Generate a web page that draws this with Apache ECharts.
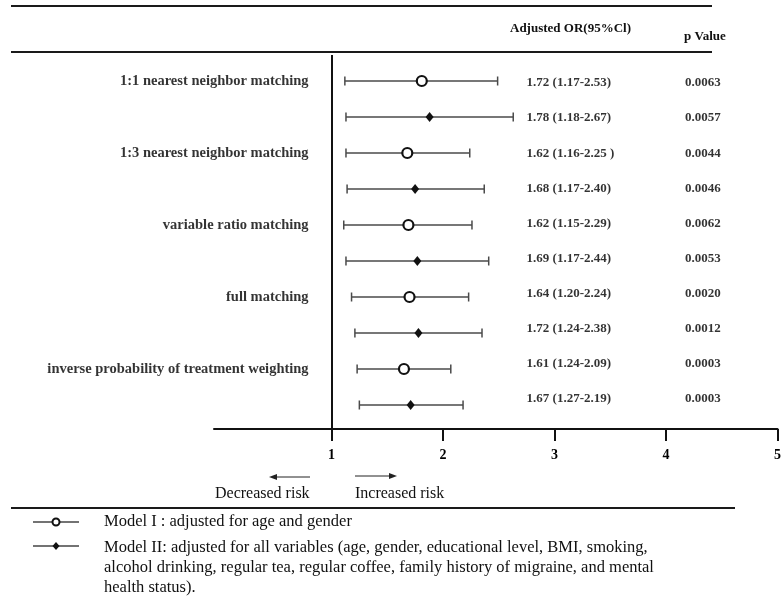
<!DOCTYPE html>
<html><head><meta charset="utf-8">
<script src="https://cdn.jsdelivr.net/npm/echarts@6/dist/echarts.min.js"></script>
<style>html,body{margin:0;padding:0;background:#fff}#c{width:784px;height:599px}</style>
</head><body><div id="c"></div>
<script>
// ---- data ----
const methods = ['1:1 nearest neighbor matching', '1:3 nearest neighbor matching', 'variable ratio matching', 'full matching', 'inverse probability of treatment weighting'];
const rowModel = ['Model I', 'Model II', 'Model I', 'Model II', 'Model I', 'Model II', 'Model I', 'Model II', 'Model I', 'Model II'];
// positions as drawn in the picture
const orPlot   = [1.81, 1.88, 1.68, 1.75, 1.69, 1.77, 1.70, 1.78, 1.65, 1.71];
const lowPlot  = [1.12, 1.13, 1.13, 1.14, 1.11, 1.13, 1.18, 1.21, 1.23, 1.25];
const highPlot = [2.49, 2.63, 2.24, 2.37, 2.26, 2.41, 2.23, 2.35, 2.07, 2.18];
const orText = ['1.72 (1.17-2.53)', '1.78 (1.18-2.67)', '1.62 (1.16-2.25 )', '1.68 (1.17-2.40)', '1.62 (1.15-2.29)', '1.69 (1.17-2.44)', '1.64 (1.20-2.24)', '1.72 (1.24-2.38)', '1.61 (1.24-2.09)', '1.67 (1.27-2.19)'];
const pValues = ['0.0063', '0.0057', '0.0044', '0.0046', '0.0062', '0.0053', '0.0020', '0.0012', '0.0003', '0.0003'];
const xTicks = [1, 2, 3, 4, 5];
const headerOR = 'Adjusted OR(95%Cl)';
const headerP = 'p Value';
const legendTexts = ['Model I : adjusted for age and gender',
  'Model II: adjusted for all variables (age, gender, educational level, BMI, smoking,',
  'alcohol drinking, regular tea, regular coffee, family history of migraine, and mental',
  'health status).'];

const SERIF = '"Liberation Serif", "Times New Roman", serif';
const chart = echarts.init(document.getElementById('c'));

const rows = orPlot.map((v, i) => i);
const ciData = rows.map(i => [lowPlot[i], highPlot[i], i]);
const m1 = rows.filter(i => rowModel[i] === 'Model I').map(i => [orPlot[i], i]);
const m2 = rows.filter(i => rowModel[i] === 'Model II').map(i => [orPlot[i], i]);
const methodData = methods.map((m, k) => ({ value: [0.795, 2 * k], name: m }));
const orTextData = rows.map(i => ({ value: [2.75, i], name: orText[i] }));
const pData = rows.map(i => ({ value: [4.17, i], name: pValues[i] }));

const boldLabel = { show: true, fontFamily: SERIF, fontWeight: 'bold', fontSize: 13, color: '#000', formatter: p => p.name };

function line(x1, y1, x2, y2, w, c) {
  return { type: 'line', shape: { x1, y1, x2, y2 }, style: { stroke: c || '#222', lineWidth: w || 1 }, silent: true };
}
function txt(x, y, t, font, align, vAlign) {
  return { type: 'text', x, y, style: { text: t, font, fill: '#111', align: align || 'left', verticalAlign: vAlign || 'middle' }, silent: true };
}

const graphics = [
  line(11, 6, 712, 6, 2.2, '#1a1a1a'),
  line(11, 52, 712, 52, 2.2, '#1a1a1a'),
  txt(510, 29, headerOR, 'bold 13px ' + SERIF),
  txt(684, 37, headerP, 'bold 13px ' + SERIF),
  // arrows
  line(276, 477, 310, 477, 1, '#222'),
  { type: 'polygon', shape: { points: [[269, 477], [277, 474], [277, 480]] }, style: { fill: '#222' }, silent: true },
  line(355, 476, 390, 476, 1, '#222'),
  { type: 'polygon', shape: { points: [[397, 476], [389, 473], [389, 479]] }, style: { fill: '#222' }, silent: true },
  txt(215, 494, 'Decreased risk', '16px ' + SERIF),
  txt(355, 494, 'Increased risk', '16px ' + SERIF),
  line(11, 508, 735, 508, 2.2, '#1a1a1a'),
  // legend
  line(33, 522, 79, 522, 1.5, '#444'),
  { type: 'circle', shape: { cx: 56, cy: 522, r: 3.5 }, style: { fill: '#fff', stroke: '#111', lineWidth: 2 }, silent: true },
  line(33, 546, 79, 546, 1.5, '#444'),
  { type: 'polygon', shape: { points: [[56, 542], [59.5, 546], [56, 550], [52.5, 546]] }, style: { fill: '#111' }, silent: true },
  txt(104, 522, legendTexts[0], '16.5px ' + SERIF),
  txt(104, 548, legendTexts[1], '16.5px ' + SERIF),
  txt(104, 568, legendTexts[2], '16.5px ' + SERIF),
  txt(104, 588, legendTexts[3], '16.5px ' + SERIF)
];

chart.setOption({
  animation: false,
  backgroundColor: '#fff',
  grid: { left: 214, right: 4, top: 55, height: 374 },
  xAxis: {
    type: 'value', min: -0.05357, max: 5,
    splitLine: { show: false },
    axisLine: { show: true, onZero: false, lineStyle: { color: '#111', width: 2 } },
    axisTick: { show: true, length: 12, inside: false, customValues: xTicks, lineStyle: { color: '#111', width: 2 } },
    axisLabel: { show: true, customValues: xTicks, margin: 19, fontFamily: SERIF, fontWeight: 'bold', fontSize: 14, color: '#000' }
  },
  yAxis: [
    { type: 'value', min: -0.7222, max: 9.6667, inverse: true, show: false },
    { type: 'value', min: -0.7975, max: 9.854, inverse: true, show: false }
  ],
  graphic: graphics,
  series: [
    {
      type: 'custom', name: 'CI', silent: true, data: ciData,
      renderItem: (params, api) => {
        const a = api.coord([api.value(0), api.value(2)]);
        const b = api.coord([api.value(1), api.value(2)]);
        const st = { stroke: '#4a4a4a', lineWidth: 1.5 };
        return { type: 'group', children: [
          { type: 'line', shape: { x1: a[0], y1: a[1], x2: b[0], y2: b[1] }, style: st },
          { type: 'line', shape: { x1: a[0], y1: a[1] - 4.5, x2: a[0], y2: a[1] + 4.5 }, style: st },
          { type: 'line', shape: { x1: b[0], y1: b[1] - 4.5, x2: b[0], y2: b[1] + 4.5 }, style: st }
        ] };
      },
      markLine: {
        silent: true, symbol: 'none', label: { show: false },
        lineStyle: { color: '#111', width: 2, type: 'solid' },
        data: [{ xAxis: 1 }]
      }
    },
    {
      type: 'scatter', name: 'Model I', data: m1, symbol: 'circle', symbolSize: 10,
      itemStyle: { color: '#fff', borderColor: '#111', borderWidth: 2.2, opacity: 1 }, z: 5
    },
    {
      type: 'scatter', name: 'Model II', data: m2, symbol: 'diamond', symbolSize: [8, 10],
      itemStyle: { color: '#111', opacity: 1 }, z: 5
    },
    {
      type: 'scatter', name: 'methods', data: methodData, symbolSize: 0, silent: true,
      label: Object.assign({}, boldLabel, { position: 'left', distance: 0, fontSize: 14.5 })
    },
    {
      type: 'scatter', name: 'ortext', yAxisIndex: 1, data: orTextData, symbolSize: 0, silent: true,
      label: Object.assign({}, boldLabel, { position: 'right', distance: 0 })
    },
    {
      type: 'scatter', name: 'pvalue', yAxisIndex: 1, data: pData, symbolSize: 0, silent: true,
      label: Object.assign({}, boldLabel, { position: 'right', distance: 0 })
    }
  ]
});
</script></body></html>
